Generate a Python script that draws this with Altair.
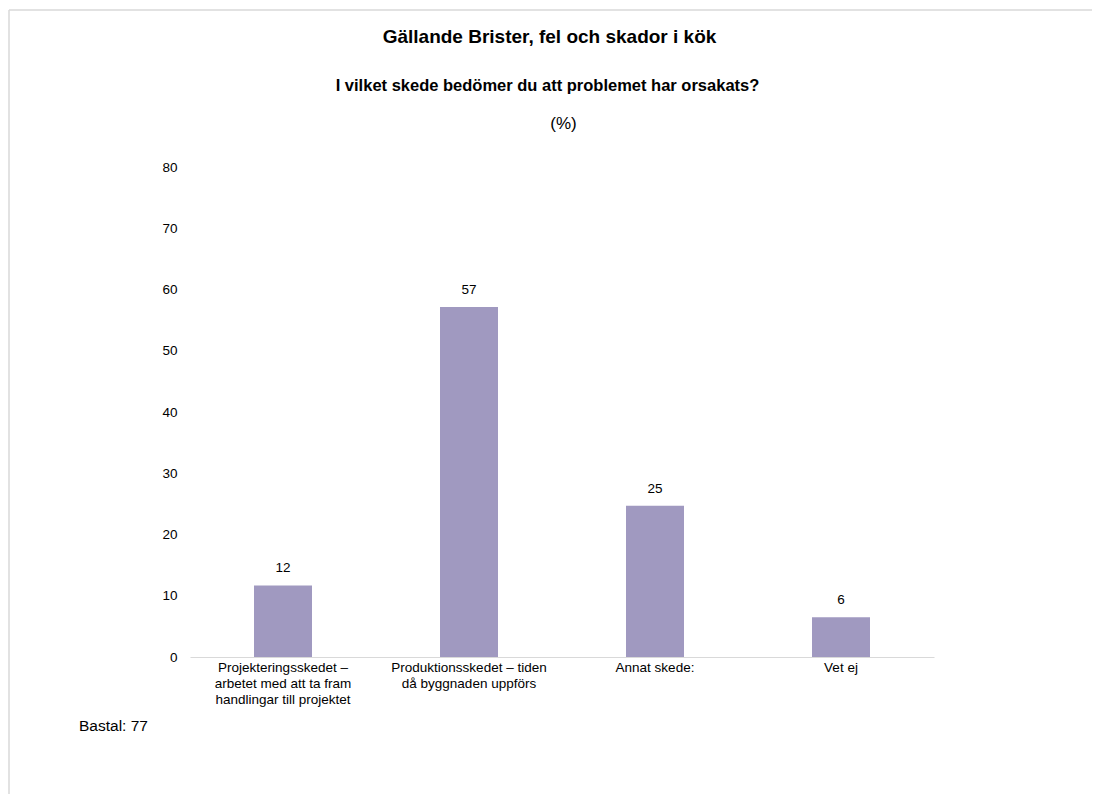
import altair as alt
import pandas as pd

# ---- data ----
categories = [
    "Projekteringsskedet  –|arbetet med att ta fram|handlingar  till projektet",
    "Produktionsskedet  – tiden|då byggnaden uppförs",
    "Annat skede:",
    "Vet ej",
]
values = [11.69, 57.14, 24.68, 6.49]
y_ticks = [0, 10, 20, 30, 40, 50, 60, 70, 80]

title_text = "Gällande Brister, fel och skador i kök"
subtitle_text = "I vilket skede bedömer du att problemet har orsakats?"
unit_text = "(%)"
base_text = "Bastal: 77"

FONT = "Liberation Sans"
BAR_COLOR = "#A099C0"
W, H = 744, 490

df = pd.DataFrame({"cat": categories, "val": values})

x_enc = alt.X(
    "cat:N",
    sort=categories,
    scale=alt.Scale(paddingInner=0, paddingOuter=0),
    axis=alt.Axis(
        title=None,
        labelAngle=0,
        labelExpr="split(datum.label, '|')",
        labelLineHeight=16,
        labelPadding=3,
        labelFontSize=13.5,
        labelFont=FONT,
        labelColor="#000000",
        ticks=False,
        domainColor="#d9d9d9",
        labelLimit=300,
    ),
)
y_enc = alt.Y(
    "val:Q",
    scale=alt.Scale(domain=[0, 80], nice=False),
    axis=alt.Axis(
        title=None,
        values=y_ticks,
        domain=False,
        ticks=False,
        grid=False,
        labelPadding=13,
        labelFontSize=13.5,
        labelFont=FONT,
        labelColor="#000000",
    ),
)

base = alt.Chart(df)
bars = base.mark_bar(color=BAR_COLOR, size=58).encode(x=x_enc, y=y_enc)
bar_labels = base.mark_text(dy=-10, fontSize=13.5, font=FONT, color="#000000", baseline="bottom").encode(
    x=alt.X("cat:N", sort=categories),
    y="val:Q",
    text=alt.Text("val:Q", format=".0f"),
)

def txt(s, x, y, size, weight="normal", align="center"):
    return alt.Chart(pd.DataFrame({"t": [s]})).mark_text(
        fontSize=size, fontWeight=weight, font=FONT, color="#000000",
        align=align, baseline="middle",
    ).encode(text="t:N", x=alt.value(x), y=alt.value(y))

one = pd.DataFrame({"t": [0]})
frame_top = alt.Chart(one).mark_rule(color="#d9d9d9", strokeWidth=1.5).encode(
    x=alt.value(-181), x2=alt.value(902), y=alt.value(-157))
frame_left = alt.Chart(one).mark_rule(color="#d9d9d9", strokeWidth=1.5).encode(
    x=alt.value(-181), y=alt.value(-157), y2=alt.value(627))

chart = alt.layer(
    frame_top,
    frame_left,
    bars,
    bar_labels,
    txt(title_text, 359.5, -130, 19, "bold"),
    txt(subtitle_text, 357.5, -81, 16.5, "bold"),
    txt(unit_text, 373.5, -43, 17),
    txt(base_text, -111, 559, 15.5, align="left"),
).properties(
    width=W, height=H,
    autosize=alt.AutoSizeParams(type="none"),
    padding={"left": 182, "top": 159, "right": 158, "bottom": 137},
).configure_view(stroke=None)

chart.save("out.html", embed_options={"renderer": "svg", "actions": False})
